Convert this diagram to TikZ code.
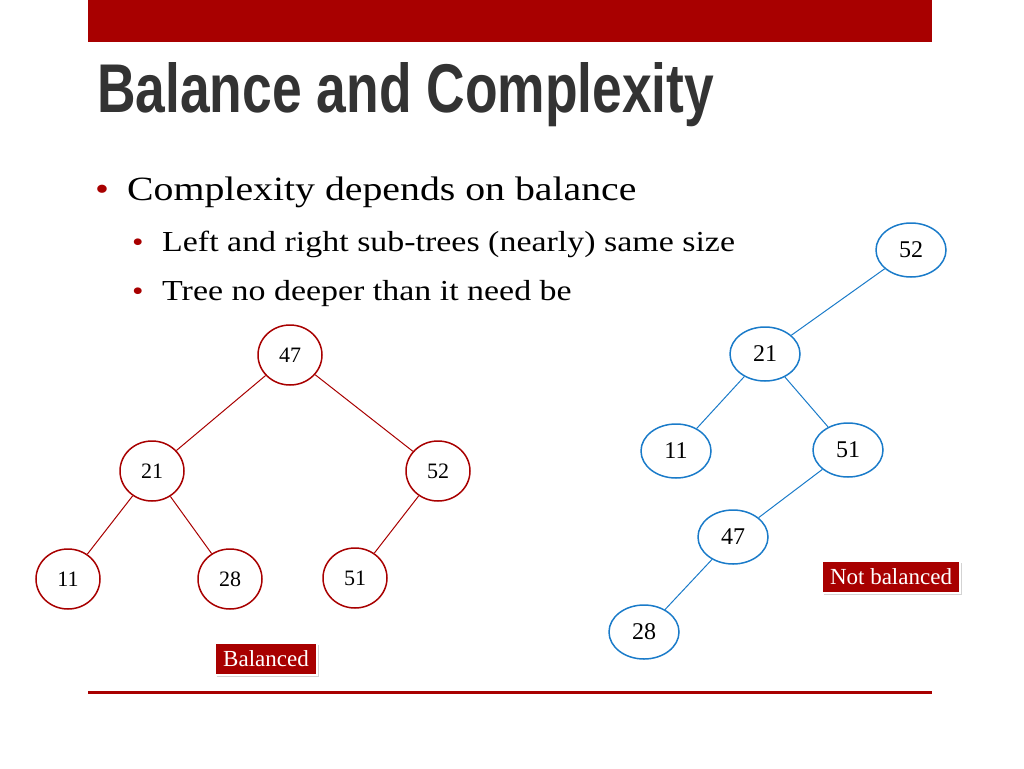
\documentclass[tikz,border=0pt]{standalone}
\usepackage{fontspec}
\setmainfont{Liberation Serif}[FakeStretch=1.17]
\newfontfamily\titlefont{Liberation Sans}
\newfontfamily\plainserif{Liberation Serif}
\usetikzlibrary{shadows,shapes.geometric}
\definecolor{dred}{HTML}{A80000}
\definecolor{tblue}{HTML}{1A7BC9}
\definecolor{tgray}{HTML}{333333}
\tikzset{
 rn/.style={ellipse,draw=dred,line width=1.5pt,minimum width=64pt,minimum height=60pt,inner sep=0pt,font=\plainserif\fontsize{22}{24}\selectfont},
 bn/.style={ellipse,draw=tblue,line width=1.5pt,minimum width=70pt,minimum height=54pt,inner sep=0pt,font=\plainserif\fontsize{24}{26}\selectfont},
 re/.style={draw=dred,line width=1pt},
 be/.style={draw=tblue,line width=1pt},
 tag/.style={fill=dred,draw=white,line width=1.5pt,text=white,inner xsep=8pt,inner ysep=8pt,font=\plainserif\fontsize{23}{25}\selectfont,drop shadow={opacity=0.35,shadow xshift=2pt,shadow yshift=-2pt}},
}
\begin{document}
\begin{tikzpicture}[x=1pt,y=-1pt]
\useasboundingbox (0,0) rectangle (1024,768);
\fill[dred] (88,0) rectangle (932,42);
\draw[dred,line width=3pt] (88,692) -- (932,692);
\node[anchor=base west,inner sep=0pt,text=tgray] (title) at (97,112) {\resizebox{617pt}{50pt}{\titlefont\bfseries Balance and Complexity}};
\node[anchor=base west,inner sep=0pt,text=dred,font=\fontsize{34}{36}\selectfont] (b1) at (95,200) {•};
\node[anchor=base west,inner sep=0pt,font=\fontsize{34}{36}\selectfont] (t1) at (127,200) {Complexity depends on balance};
\node[anchor=base west,inner sep=0pt,text=dred,font=\fontsize{28}{30}\selectfont] (b2) at (132,251) {•};
\node[anchor=base west,inner sep=0pt,font=\fontsize{29}{31}\selectfont] (t2) at (162,251) {Left and right sub-trees (nearly) same size};
\node[anchor=base west,inner sep=0pt,text=dred,font=\fontsize{28}{30}\selectfont] (b3) at (132,300) {•};
\node[anchor=base west,inner sep=0pt,font=\fontsize{29}{31}\selectfont] (t3) at (162,300) {Tree no deeper than it need be};
% left tree
\node[rn] (l47) at (290,355) {47};
\node[rn] (l21) at (152,471) {21};
\node[rn] (l52) at (438,471) {52};
\node[rn] (l11) at (68,579) {11};
\node[rn] (l28) at (230,579) {28};
\node[rn] (l51) at (355,578) {51};
\draw[re] (l47) -- (l21); \draw[re] (l47) -- (l52);
\draw[re] (l21) -- (l11); \draw[re] (l21) -- (l28);
\draw[re] (l52) -- (l51);
% right tree
\node[bn] (r52) at (911,250) {52};
\node[bn] (r21) at (765,354) {21};
\node[bn] (r11) at (676,451) {11};
\node[bn] (r51) at (848,450) {51};
\node[bn] (r47) at (733,537) {47};
\node[bn] (r28) at (644,632) {28};
\draw[be] (r52) -- (r21); \draw[be] (r21) -- (r11); \draw[be] (r21) -- (r51);
\draw[be] (r51) -- (r47); \draw[be] (r47) -- (r28);
\node[tag] (bal) at (266,659) {Balanced};
\node[tag] (nbal) at (891,577) {Not balanced};
\end{tikzpicture}
\end{document}
